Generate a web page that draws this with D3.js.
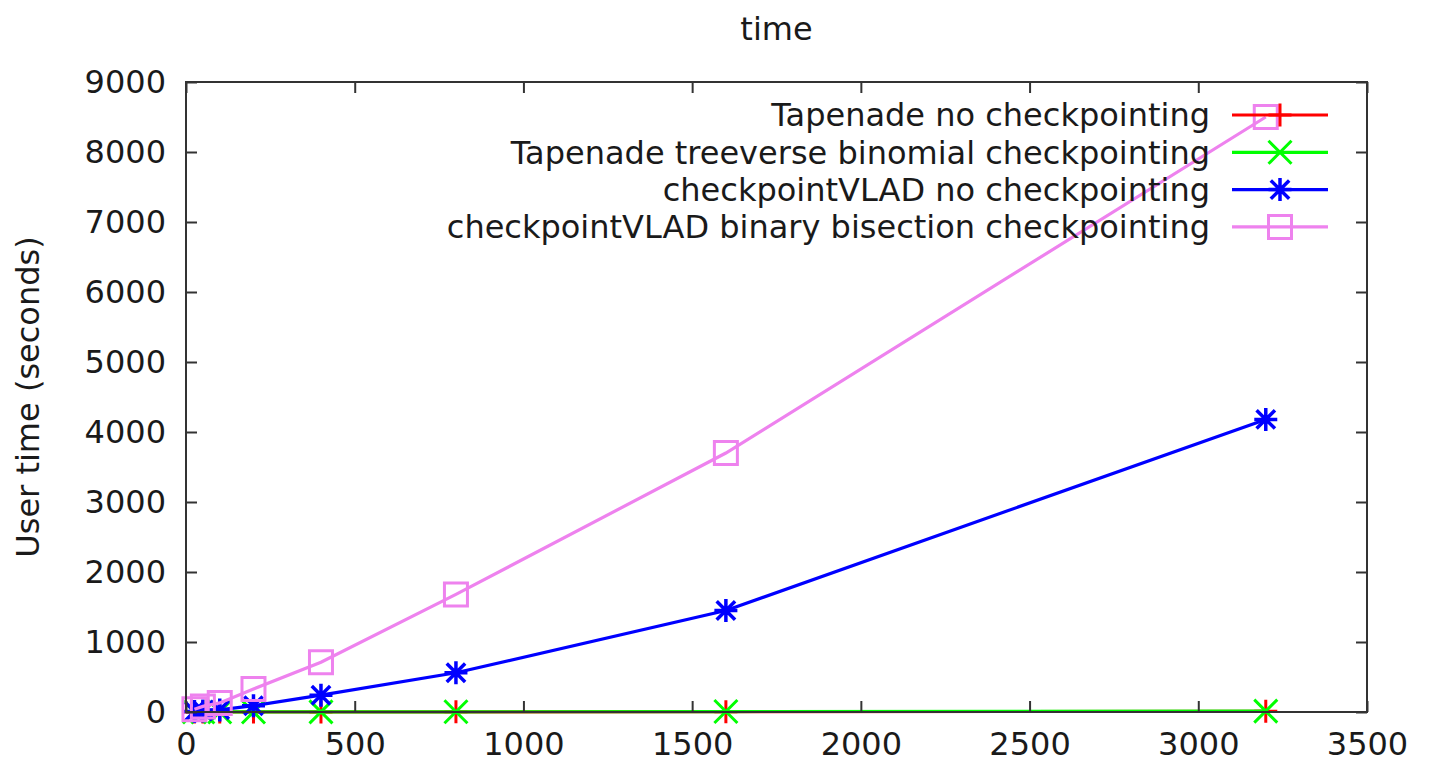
<!DOCTYPE html>
<html>
<head>
<meta charset="utf-8">
<script src="https://cdn.jsdelivr.net/npm/d3@7"></script>
<style>
  body { margin: 0; background: #fff; }
  text { font-family: "DejaVu Sans", sans-serif; fill: #1a1a1a; }
</style>
</head>
<body>
<div id="chart"></div>
<script>
// problem sizes
var sizes = [25, 50, 100, 200, 400, 800, 1600, 3200];

// user time in seconds
var tapenadeNoCkpt    = [0.1, 0.2, 0.3, 0.6, 1.2, 2.4, 4.8, 9];
var tapenadeTreeverse = [0.1, 0.2, 0.4, 0.8, 1.6, 3.2, 6.5, 13];
var vladNoCkpt        = [8, 15, 30, 90, 240, 560, 1450, 4180];
var vladBisection     = [40, 80, 130, 330, 710, 1680, 3700, 8500];

var seriesNames = [
  "Tapenade no checkpointing",
  "Tapenade treeverse binomial checkpointing",
  "checkpointVLAD no checkpointing",
  "checkpointVLAD binary bisection checkpointing"
];
var xTicks = [0, 500, 1000, 1500, 2000, 2500, 3000, 3500];
var yTicks = [0, 1000, 2000, 3000, 4000, 5000, 6000, 7000, 8000, 9000];

var series = [
  {name: seriesNames[0], values: tapenadeNoCkpt,    color: "#ff0000", marker: "plus"},
  {name: seriesNames[1], values: tapenadeTreeverse, color: "#00ff00", marker: "cross"},
  {name: seriesNames[2], values: vladNoCkpt,        color: "#0000ff", marker: "star"},
  {name: seriesNames[3], values: vladBisection,     color: "#ee82ee", marker: "square"}
];

var W = 1432, H = 767,
  fs = "32px",
  margin = {top: 82, right: 65, bottom: 55, left: 186},
  width = W - margin.left - margin.right,
  height = H - margin.top - margin.bottom;

var svg = d3.select("#chart").append("svg")
  .attr("width", W)
  .attr("height", H);

var x = d3.scaleLinear().domain([0, 3500]).range([0, width]),
  y = d3.scaleLinear().domain([0, 9000]).range([height, 0]);

var g = svg.append("g")
  .attr("transform", "translate(" + margin.left + "," + margin.top + ")");

// Title and axis label
svg.append("text")
  .attr("x", margin.left + width / 2)
  .attr("y", 40)
  .attr("text-anchor", "middle")
  .style("font-size", fs)
  .text("time");

svg.append("text")
  .attr("transform", "translate(39," + (margin.top + height / 2) + ") rotate(-90)")
  .attr("text-anchor", "middle")
  .style("font-size", fs)
  .text("User time (seconds)");

// Markers
var ms = 11.5;
function drawMarker(sel, type, color) {
  var path, d = ms * 0.8;
  if (type === "plus") path = "M" + -ms + ",0H" + ms + "M0," + -ms + "V" + ms;
  else if (type === "cross") path = "M" + -ms + "," + -ms + "L" + ms + "," + ms + "M" + -ms + "," + ms + "L" + ms + "," + -ms;
  else if (type === "star") path = "M" + -ms + ",0H" + ms + "M0," + -ms + "V" + ms +
    "M" + -d + "," + -d + "L" + d + "," + d +
    "M" + -d + "," + d + "L" + d + "," + -d;
  else path = "M" + -ms + "," + -ms + "H" + ms + "V" + ms + "H" + -ms + "Z";
  sel.append("path")
    .attr("d", path)
    .attr("fill", "none")
    .attr("stroke", color)
    .attr("stroke-width", type === "star" ? 3.5 : 3);
}

var line = d3.line()
  .x(function(d, i) { return x(sizes[i]); })
  .y(function(d) { return y(d); });

series.forEach(function(s) {
  var sg = g.append("g");
  sg.append("path")
    .datum(s.values)
    .attr("fill", "none")
    .attr("stroke", s.color)
    .attr("stroke-width", 3.2)
    .attr("d", line);
  s.values.forEach(function(v, i) {
    var m = sg.append("g").attr("transform", "translate(" + x(sizes[i]) + "," + y(v) + ")");
    drawMarker(m, s.marker, s.color);
  });
});

// Axes (ticks inward, mirrored)
var tick = 11;
g.append("g")
  .attr("class", "axis")
  .attr("transform", "translate(0," + height + ")")
  .call(d3.axisBottom(x).tickValues(xTicks).tickFormat(d3.format("d")).tickSize(-tick).tickPadding(20).tickSizeOuter(0))
  .call(function(a) { a.selectAll("text").style("font-size", fs).attr("dy", "0.71em"); });
g.append("g")
  .attr("class", "axis")
  .call(d3.axisTop(x).tickValues(xTicks).tickSize(-tick).tickFormat("").tickSizeOuter(0));
g.append("g")
  .attr("class", "axis")
  .call(d3.axisLeft(y).tickValues(yTicks).tickFormat(d3.format("d")).tickSize(-tick).tickPadding(20).tickSizeOuter(0))
  .call(function(a) { a.selectAll("text").style("font-size", fs); });
g.append("g")
  .attr("class", "axis")
  .attr("transform", "translate(" + width + ",0)")
  .call(d3.axisRight(y).tickValues(yTicks).tickSize(-tick).tickFormat("").tickSizeOuter(0));

g.selectAll(".axis .domain").remove();
g.selectAll(".axis line").attr("stroke", "#333").attr("stroke-width", 2);
g.selectAll(".axis text").attr("fill", "#1a1a1a").style("font-family", "DejaVu Sans, sans-serif");

// Border
g.append("rect")
  .attr("width", width)
  .attr("height", height)
  .attr("fill", "none")
  .attr("stroke", "#333")
  .attr("stroke-width", 2);

// Legend
var legend = svg.append("g");
series.forEach(function(s, i) {
  var ly = 115 + i * 37.3;
  legend.append("text")
    .attr("x", 1210)
    .attr("y", ly)
    .attr("dy", "0.35em")
    .attr("text-anchor", "end")
    .style("font-size", fs)
    .text(s.name);
  legend.append("line")
    .attr("x1", 1232).attr("x2", 1328)
    .attr("y1", ly).attr("y2", ly)
    .attr("stroke", s.color)
    .attr("stroke-width", 3.2);
  drawMarker(legend.append("g").attr("transform", "translate(1280," + ly + ")"), s.marker, s.color);
});
</script>
</body>
</html>
